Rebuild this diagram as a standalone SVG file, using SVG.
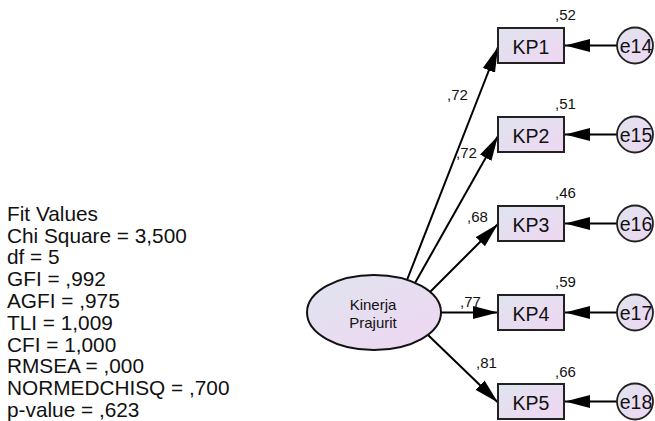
<svg xmlns="http://www.w3.org/2000/svg" width="655" height="421" viewBox="0 0 655 421">
  <defs>
    <linearGradient id="fillGrad" x1="0" y1="0" x2="1" y2="1">
      <stop offset="0" stop-color="#dfe4ef"/>
      <stop offset="1" stop-color="#efd6f2"/>
    </linearGradient>
    <marker id="arrow" markerUnits="userSpaceOnUse" markerWidth="26" markerHeight="14" refX="25" refY="6.5" orient="auto">
      <path d="M0,0 L25,6.5 L0,13 Z" fill="#000"/>
    </marker>
    <style>
      .box { fill: url(#fillGrad); stroke: #222; stroke-width: 2; }
      .err { fill: url(#fillGrad); stroke: #222; stroke-width: 1.8; }
      .lat { fill: url(#fillGrad); stroke: #111; stroke-width: 2; }
      .edge { stroke: #000; stroke-width: 2; fill: none; marker-end: url(#arrow); }
      text { font-family: "Liberation Sans", Arial, sans-serif; fill: #111; }
      .obs { font-size: 19.5px; text-anchor: middle; }
      .enm { font-size: 19.5px; text-anchor: middle; }
      .lname { font-size: 15px; text-anchor: middle; }
      .coef { font-size: 15px; }
      .fit { font-size: 20.8px; }
    </style>
  </defs>

  <!-- fit statistics -->
  <g id="fit-values">
    <text class="fit" x="7" y="220.7">Fit Values</text>
    <text class="fit" x="7" y="242.5">Chi Square = 3,500</text>
    <text class="fit" x="7" y="264.3">df = 5</text>
    <text class="fit" x="7" y="286.1">GFI = ,992</text>
    <text class="fit" x="7" y="307.9">AGFI = ,975</text>
    <text class="fit" x="7" y="329.7">TLI = 1,009</text>
    <text class="fit" x="7" y="351.5">CFI = 1,000</text>
    <text class="fit" x="7" y="373.3">RMSEA = ,000</text>
    <text class="fit" x="7" y="395.1">NORMEDCHISQ = ,700</text>
    <text class="fit" x="7" y="416.9">p-value = ,623</text>
  </g>

  <!-- paths -->
  <g id="connectors">
    <line class="edge" x1="407" y1="280" x2="498" y2="47"/>
    <line class="edge" x1="415" y1="283" x2="498" y2="136"/>
    <line class="edge" x1="430" y1="292" x2="498" y2="224"/>
    <line class="edge" x1="441" y1="312.5" x2="498" y2="312.5"/>
    <line class="edge" x1="428" y1="335" x2="498" y2="402.5"/>
    <line class="edge" x1="617" y1="45.5" x2="565" y2="45.5"/>
    <line class="edge" x1="617" y1="134.5" x2="565" y2="134.5"/>
    <line class="edge" x1="617" y1="223.5" x2="565" y2="223.5"/>
    <line class="edge" x1="617" y1="312.5" x2="565" y2="312.5"/>
    <line class="edge" x1="617" y1="401.5" x2="565" y2="401.5"/>
    <text class="coef" x="447" y="100">,72</text>
    <text class="coef" x="456" y="158">,72</text>
    <text class="coef" x="467" y="222">,68</text>
    <text class="coef" x="460" y="307">,77</text>
    <text class="coef" x="476" y="368">,81</text>
  </g>

  <!-- latent variable -->
  <g id="kinerja-prajurit">
    <ellipse class="lat" cx="374" cy="312.5" rx="67" ry="37.5"/>
    <text class="lname" x="373" y="309.5">Kinerja</text>
    <text class="lname" x="373" y="327.5">Prajurit</text>
  </g>

  <!-- indicators -->
  <g id="KP1">
    <rect class="box" x="498" y="28" width="66" height="35"/>
    <text class="obs" x="531" y="53.5">KP1</text>
    <text class="coef" x="555" y="20">,52</text>
  </g>
  <g id="KP2">
    <rect class="box" x="498" y="117" width="66" height="35"/>
    <text class="obs" x="531" y="142.5">KP2</text>
    <text class="coef" x="555" y="109">,51</text>
  </g>
  <g id="KP3">
    <rect class="box" x="498" y="206" width="66" height="35"/>
    <text class="obs" x="531" y="231.5">KP3</text>
    <text class="coef" x="555" y="198">,46</text>
  </g>
  <g id="KP4">
    <rect class="box" x="498" y="295" width="66" height="35"/>
    <text class="obs" x="531" y="320.5">KP4</text>
    <text class="coef" x="555" y="287">,59</text>
  </g>
  <g id="KP5">
    <rect class="box" x="498" y="384" width="66" height="35"/>
    <text class="obs" x="531" y="409.5">KP5</text>
    <text class="coef" x="555" y="377">,66</text>
  </g>

  <!-- error terms -->
  <g id="e14">
    <circle class="err" cx="635" cy="45.5" r="18"/>
    <text class="enm" x="636" y="52.5">e14</text>
  </g>
  <g id="e15">
    <circle class="err" cx="635" cy="134.5" r="18"/>
    <text class="enm" x="636" y="141.5">e15</text>
  </g>
  <g id="e16">
    <circle class="err" cx="635" cy="223.5" r="18"/>
    <text class="enm" x="636" y="230.5">e16</text>
  </g>
  <g id="e17">
    <circle class="err" cx="635" cy="312.5" r="18"/>
    <text class="enm" x="636" y="319.5">e17</text>
  </g>
  <g id="e18">
    <circle class="err" cx="635" cy="401.5" r="18"/>
    <text class="enm" x="636" y="408.5">e18</text>
  </g>
</svg>
